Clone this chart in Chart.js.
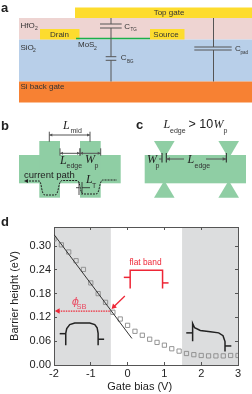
<!DOCTYPE html>
<html>
<head>
<meta charset="utf-8">
<title>Barrier height vs gate bias</title>
<script src="https://cdn.jsdelivr.net/npm/chart.js@4"></script>
<style>
html, body { margin: 0; padding: 0; background: #fff; }
canvas { display: block; filter: blur(0.3px); }
</style>
</head>
<body>
<canvas id="figure" width="252" height="394"></canvas>
<script>
// panel d values
const gateBias = [-2, -1.8, -1.6, -1.4, -1.2, -1, -0.8, -0.6, -0.4, -0.2, 0, 0.2, 0.4, 0.6, 0.8, 1, 1.2, 1.4, 1.6, 1.8, 2, 2.2, 2.4, 2.6, 2.8, 3];
const barrierHeight = [0.318, 0.303, 0.285, 0.263, 0.241, 0.207, 0.180, 0.158, 0.133, 0.116, 0.100, 0.085, 0.075, 0.065, 0.057, 0.050, 0.041, 0.035, 0.029, 0.026, 0.024, 0.023, 0.023, 0.023, 0.024, 0.024];
const fitBias = [-2, 0.117];
const fitHeight = [0.329, 0.067];
const xTicks = [-2, -1, 0, 1, 2, 3];
const yTicks = [0, 0.06, 0.12, 0.18, 0.24, 0.30];
const shadeLeft = [-2, -0.455];
const shadeRight = [1.48, 3];

// band sketches inside the plot, in axis units
const accBandX = [-1.681, -1.681, -1.654, -1.572, -1.436, -1.028, -0.892, -0.828, -0.801, -0.801];
const accBandY = [0.050, 0.080, 0.092, 0.102, 0.106, 0.106, 0.102, 0.094, 0.080, 0.050];
const flatBandX = [0.070, 0.070, 0.950, 0.950];
const flatBandY = [0.193, 0.239, 0.239, 0.193];
const depBandX = [1.767, 1.767, 1.821, 1.975, 2.248, 2.475, 2.593, 2.647, 2.647];
const depBandY = [0.060, 0.105, 0.094, 0.087, 0.084, 0.081, 0.074, 0.059, 0.034];
const phiLineX = [-0.484, -1.89];
const phiLineY = [0.136, 0.136];
const pointerX = [-0.075, -0.375];
const pointerY = [0.174, 0.147];

const ink = '#333';
const red = '#ee2636';
const pink = '#ea4a62';
const green = '#8fcea4';
const gray = '#555';

function pts(xs, ys) {
    return xs.map((x, i) => ({ x: x, y: ys[i] }));
}

function band(xs, ys, color, width) {
    return { type: 'line', data: pts(xs, ys), borderColor: color, borderWidth: width || 1.5, pointRadius: 0, tension: 0, fill: false };
}

function rect(c, x, y, w, h, color) {
    c.fillStyle = color;
    c.fillRect(x, y, w, h);
}

function line(c, coords, color, width, dash) {
    c.save();
    c.strokeStyle = color;
    c.lineWidth = width || 1;
    c.setLineDash(dash || []);
    c.beginPath();
    coords.forEach((p, i) => i ? c.lineTo(p[0], p[1]) : c.moveTo(p[0], p[1]));
    c.stroke();
    c.restore();
}

function tri(c, pts3, color) {
    c.fillStyle = color;
    c.beginPath();
    pts3.forEach((p, i) => i ? c.lineTo(p[0], p[1]) : c.moveTo(p[0], p[1]));
    c.closePath();
    c.fill();
}

function txt(c, s, x, y, font, color, align) {
    c.font = font;
    c.fillStyle = color || ink;
    c.textAlign = align || 'left';
    c.textBaseline = 'middle';
    c.fillText(s, x, y);
}

// horizontal dimension arrow with end bars
function dim(c, x1, x2, y, top, bottom) {
    line(c, [[x1, y], [x2, y]], gray, 1);
    line(c, [[x1, top], [x1, bottom]], gray, 1);
    line(c, [[x2, top], [x2, bottom]], gray, 1);
    tri(c, [[x1, y], [x1 + 3, y - 1.5], [x1 + 3, y + 1.5]], gray);
    tri(c, [[x2, y], [x2 - 3, y - 1.5], [x2 - 3, y + 1.5]], gray);
}

const F = 'Liberation Sans, Arial, sans-serif';
const I = 'italic 12px Liberation Serif, serif';

function panelA(c) {
    txt(c, 'a', 1, 8, 'bold 13px ' + F, '#222');
    rect(c, 19, 18, 233, 21.5, '#eed4d2');
    rect(c, 19, 39.5, 233, 42, '#b8cfe9');
    rect(c, 19, 81.5, 233, 21, '#f78133');
    rect(c, 75, 7.5, 177, 10.5, '#fddc2e');
    rect(c, 40, 29, 39.5, 10.5, '#fddc2e');
    rect(c, 150, 29, 34.5, 10.5, '#fddc2e');
    line(c, [[76, 38.5], [150, 38.5]], '#19b04a', 1.4);

    line(c, [[111, 18], [111, 24]], gray, 1);
    line(c, [[111, 28], [111, 56.7]], gray, 1);
    line(c, [[111, 60.3], [111, 81.5]], gray, 1);
    line(c, [[100, 24], [121.7, 24]], gray, 1);
    line(c, [[100, 28], [121.7, 28]], gray, 1);
    line(c, [[105.7, 56.7], [116.3, 56.7]], gray, 1);
    line(c, [[105.7, 60.3], [116.3, 60.3]], gray, 1);
    line(c, [[213.5, 18], [213.5, 47]], gray, 1);
    line(c, [[213.5, 50], [213.5, 81.5]], gray, 1);
    line(c, [[194.3, 47], [231.7, 47]], gray, 1);
    line(c, [[194.3, 50], [231.7, 50]], gray, 1);

    txt(c, 'Top gate', 169, 13, '8px ' + F, ink, 'center');
    txt(c, 'Drain', 59.5, 34.3, '8px ' + F, ink, 'center');
    txt(c, 'Source', 166, 34.3, '8px ' + F, ink, 'center');
    txt(c, 'HfO', 20.5, 25.7, '8px ' + F);
    txt(c, '2', 35, 29, '5px ' + F);
    txt(c, 'SiO', 20.5, 47.7, '8px ' + F);
    txt(c, '2', 33, 51, '5px ' + F);
    txt(c, 'MoS', 78, 45, '8px ' + F);
    txt(c, '2', 94, 48.5, '5px ' + F);
    txt(c, 'Si back gate', 20.5, 87, '8px ' + F);
    txt(c, 'C', 124.3, 26.7, '8px ' + F);
    txt(c, 'TG', 130.5, 30, '4.5px ' + F);
    txt(c, 'C', 120.7, 58, '8px ' + F);
    txt(c, 'BG', 127, 62, '4.5px ' + F);
    txt(c, 'C', 235, 48.3, '8px ' + F);
    txt(c, 'pad', 240.5, 52.3, '4.5px ' + F);
}

function panelB(c) {
    txt(c, 'b', 1, 126, 'bold 13px ' + F, '#222');
    rect(c, 19, 155, 101.7, 28.3, green);
    rect(c, 39.3, 141, 20.7, 56.7, green);
    rect(c, 80, 141, 20.7, 56.7, green);

    dim(c, 49.3, 90, 135, 131.7, 141.7);
    dim(c, 60, 80, 153.3, 148.3, 155.7);
    dim(c, 80, 100.7, 153.3, 148.3, 155.7);
    txt(c, 'L', 63, 125.5, I, '#222');
    txt(c, 'mid', 70.5, 131, '7px ' + F);
    txt(c, 'L', 60, 160.7, I, '#222');
    txt(c, 'edge', 66.5, 165.7, '7px ' + F);
    txt(c, 'W', 85, 160, I, '#222');
    txt(c, 'p', 94.5, 166, '7px ' + F);
    txt(c, 'current path', 24, 175, '9.5px ' + F, '#222');

    c.save();
    c.strokeStyle = '#222';
    c.lineWidth = 1;
    c.setLineDash([2, 1]);
    c.beginPath();
    c.moveTo(26, 181);
    c.lineTo(39, 181);
    c.bezierCurveTo(42, 181, 41, 195, 45, 195);
    c.lineTo(55, 195);
    c.bezierCurveTo(59, 195, 58, 181, 62, 180.5);
    c.lineTo(77, 180.5);
    c.bezierCurveTo(81, 181, 79, 194, 84, 194);
    c.lineTo(96, 194);
    c.bezierCurveTo(100, 194, 99, 180, 103, 180);
    c.lineTo(117, 180);
    c.stroke();
    c.restore();
    tri(c, [[24, 181], [28, 179], [28, 183]], '#222');

    line(c, [[79, 182], [79, 195]], '#222', 0.8);
    line(c, [[82, 182], [82, 195]], '#222', 0.8);
    line(c, [[76, 187.7], [79, 187.7]], '#222', 0.8);
    line(c, [[82, 187.7], [90, 187.7]], '#222', 0.8);
    txt(c, 'L', 86, 180, I, '#222');
    txt(c, 'T', 92, 186, '7px ' + F);
}

function panelC(c) {
    txt(c, 'c', 136, 125, 'bold 13px ' + F, '#222');
    rect(c, 144.7, 155, 101.3, 28.3, green);
    [164.3, 228.7].forEach(m => {
        tri(c, [[m - 10.3, 141], [m + 10.3, 141], [m + 1.5, 156], [m - 1.5, 156]], green);
        tri(c, [[m - 10.3, 197.7], [m + 10.3, 197.7], [m + 1.5, 183], [m - 1.5, 183]], green);
    });

    txt(c, 'L', 163.5, 125, I, '#222');
    txt(c, 'edge', 170, 130.7, '7px ' + F);
    txt(c, '> 10', 188.5, 125, '12.5px ' + F, '#222');
    txt(c, 'W', 213.5, 125, I, '#222');
    txt(c, 'p', 223.5, 130.7, '7px ' + F);

    line(c, [[162, 153], [162, 162.5]], '#222', 1);
    line(c, [[166.3, 153], [166.3, 162.5]], '#222', 1);
    line(c, [[226.3, 153], [226.3, 162.5]], '#222', 1);
    line(c, [[159, 159], [162, 159]], gray, 1);
    line(c, [[166.3, 159], [184, 159]], gray, 1);
    line(c, [[206, 159], [226.3, 159]], gray, 1);
    tri(c, [[166.3, 159], [170, 157.3], [170, 160.7]], gray);
    tri(c, [[226.3, 159], [222.6, 157.3], [222.6, 160.7]], gray);
    txt(c, 'W', 147, 159.5, I, '#222');
    txt(c, 'p', 155.5, 166, '7px ' + F);
    txt(c, 'L', 187.5, 160, I, '#222');
    txt(c, 'edge', 194.5, 165.7, '7px ' + F);
}

const schematics = {
    id: 'schematics',
    beforeDraw(chart) {
        const c = chart.ctx;
        const { x, y } = chart.scales;
        const area = chart.chartArea;
        c.save();
        rect(c, 0, 0, chart.width, chart.height, '#fff');
        [shadeLeft, shadeRight].forEach(s => {
            rect(c, x.getPixelForValue(s[0]), area.top, x.getPixelForValue(s[1]) - x.getPixelForValue(s[0]), area.bottom - area.top, '#dcddde');
        });
        panelA(c);
        panelB(c);
        panelC(c);
        txt(c, 'd', 1, 222, 'bold 13px ' + F, '#222');
        txt(c, 'Gate bias (V)', 139.7, 387, '11px ' + F, '#222', 'center');
        c.restore();
    },
    afterDatasetsDraw(chart) {
        const c = chart.ctx;
        const { x, y } = chart.scales;
        c.save();
        txt(c, 'flat band', x.getPixelForValue(0.487), y.getPixelForValue(0.259), '8.4px ' + F, red, 'center');
        txt(c, 'ϕ', x.getPixelForValue(-1.52), y.getPixelForValue(0.158), 'italic 11px "DejaVu Sans", ' + F, pink);
        txt(c, 'SB', x.getPixelForValue(-1.39), y.getPixelForValue(0.147), '7.5px ' + F, pink);
        c.restore();
    }
};

const frameAxis = {
    grid: { drawOnChartArea: false, tickLength: -3, color: gray, lineWidth: 1 },
    border: { color: gray, width: 1 }
};

new Chart(document.getElementById('figure').getContext('2d'), {
    type: 'scatter',
    data: {
        datasets: [
            {
                type: 'line',
                data: pts(fitBias, fitHeight),
                borderColor: '#333',
                borderWidth: 1,
                pointRadius: 0,
                fill: false
            },
            {
                type: 'scatter',
                data: pts(gateBias, barrierHeight),
                pointStyle: 'rect',
                pointRadius: 3,
                pointBorderColor: '#8a8a8a',
                pointBackgroundColor: 'rgba(0,0,0,0)',
                pointBorderWidth: 0.9
            },
            band(accBandX, accBandY, '#222'),
            band([-1.845, -1.681], [0.079, 0.079], '#222'),
            band([-0.801, -0.638], [0.065, 0.065], '#222'),
            band(flatBandX, flatBandY, red),
            band([-0.103, 0.070], [0.221, 0.221], red),
            band([0.950, 1.113], [0.207, 0.207], red),
            band(depBandX, depBandY, '#222'),
            band([1.594, 1.767], [0.081, 0.081], '#222'),
            band([2.647, 2.819], [0.048, 0.048], '#222'),
            {
                type: 'line',
                data: pts(phiLineX, phiLineY),
                borderColor: red,
                borderWidth: 1.3,
                borderDash: [1.5, 1],
                pointStyle: 'triangle',
                pointRadius: [0, 3.2],
                pointRotation: [0, -90],
                pointBackgroundColor: red,
                pointBorderWidth: 0
            },
            {
                type: 'line',
                data: pts(pointerX, pointerY),
                borderColor: red,
                borderWidth: 1.3,
                pointStyle: 'triangle',
                pointRadius: [0, 3.2],
                pointRotation: [0, 225],
                pointBackgroundColor: red,
                pointBorderWidth: 0
            }
        ]
    },
    options: {
        responsive: false,
        animation: false,
        layout: { padding: { left: 0, top: 227, right: 14, bottom: 0 } },
        plugins: { legend: { display: false }, tooltip: { enabled: false }, title: { display: false } },
        scales: {
            x: {
                type: 'linear',
                position: 'bottom',
                min: -2,
                max: 3,
                ...frameAxis,
                afterFit: s => { s.height = 29; },
                ticks: {
                    stepSize: 1,
                    maxRotation: 0,
                    padding: 5,
                    color: '#222',
                    font: { family: F, size: 11 },
                    callback: v => xTicks.includes(v) ? String(v) : ''
                }
            },
            y: {
                type: 'linear',
                position: 'left',
                min: 0,
                max: 0.348,
                ...frameAxis,
                afterFit: s => { s.width = 54; },
                ticks: {
                    stepSize: 0.06,
                    includeBounds: false,
                    padding: 6,
                    color: '#222',
                    font: { family: F, size: 11 },
                    callback: v => v.toFixed(2)
                },
                title: { display: true, text: 'Barrier height (eV)', color: '#222', font: { family: F, size: 11 }, padding: { top: 8, bottom: 0 } }
            },
            x2: {
                type: 'linear',
                position: 'top',
                min: -2,
                max: 3,
                ...frameAxis,
                afterFit: s => { s.height = 0; },
                ticks: { stepSize: 1, display: false }
            },
            y2: {
                type: 'linear',
                position: 'right',
                min: 0,
                max: 0.348,
                ...frameAxis,
                afterFit: s => { s.width = 0; },
                ticks: { stepSize: 0.06, includeBounds: false, display: false }
            }
        }
    },
    plugins: [schematics]
});
</script>
</body>
</html>
